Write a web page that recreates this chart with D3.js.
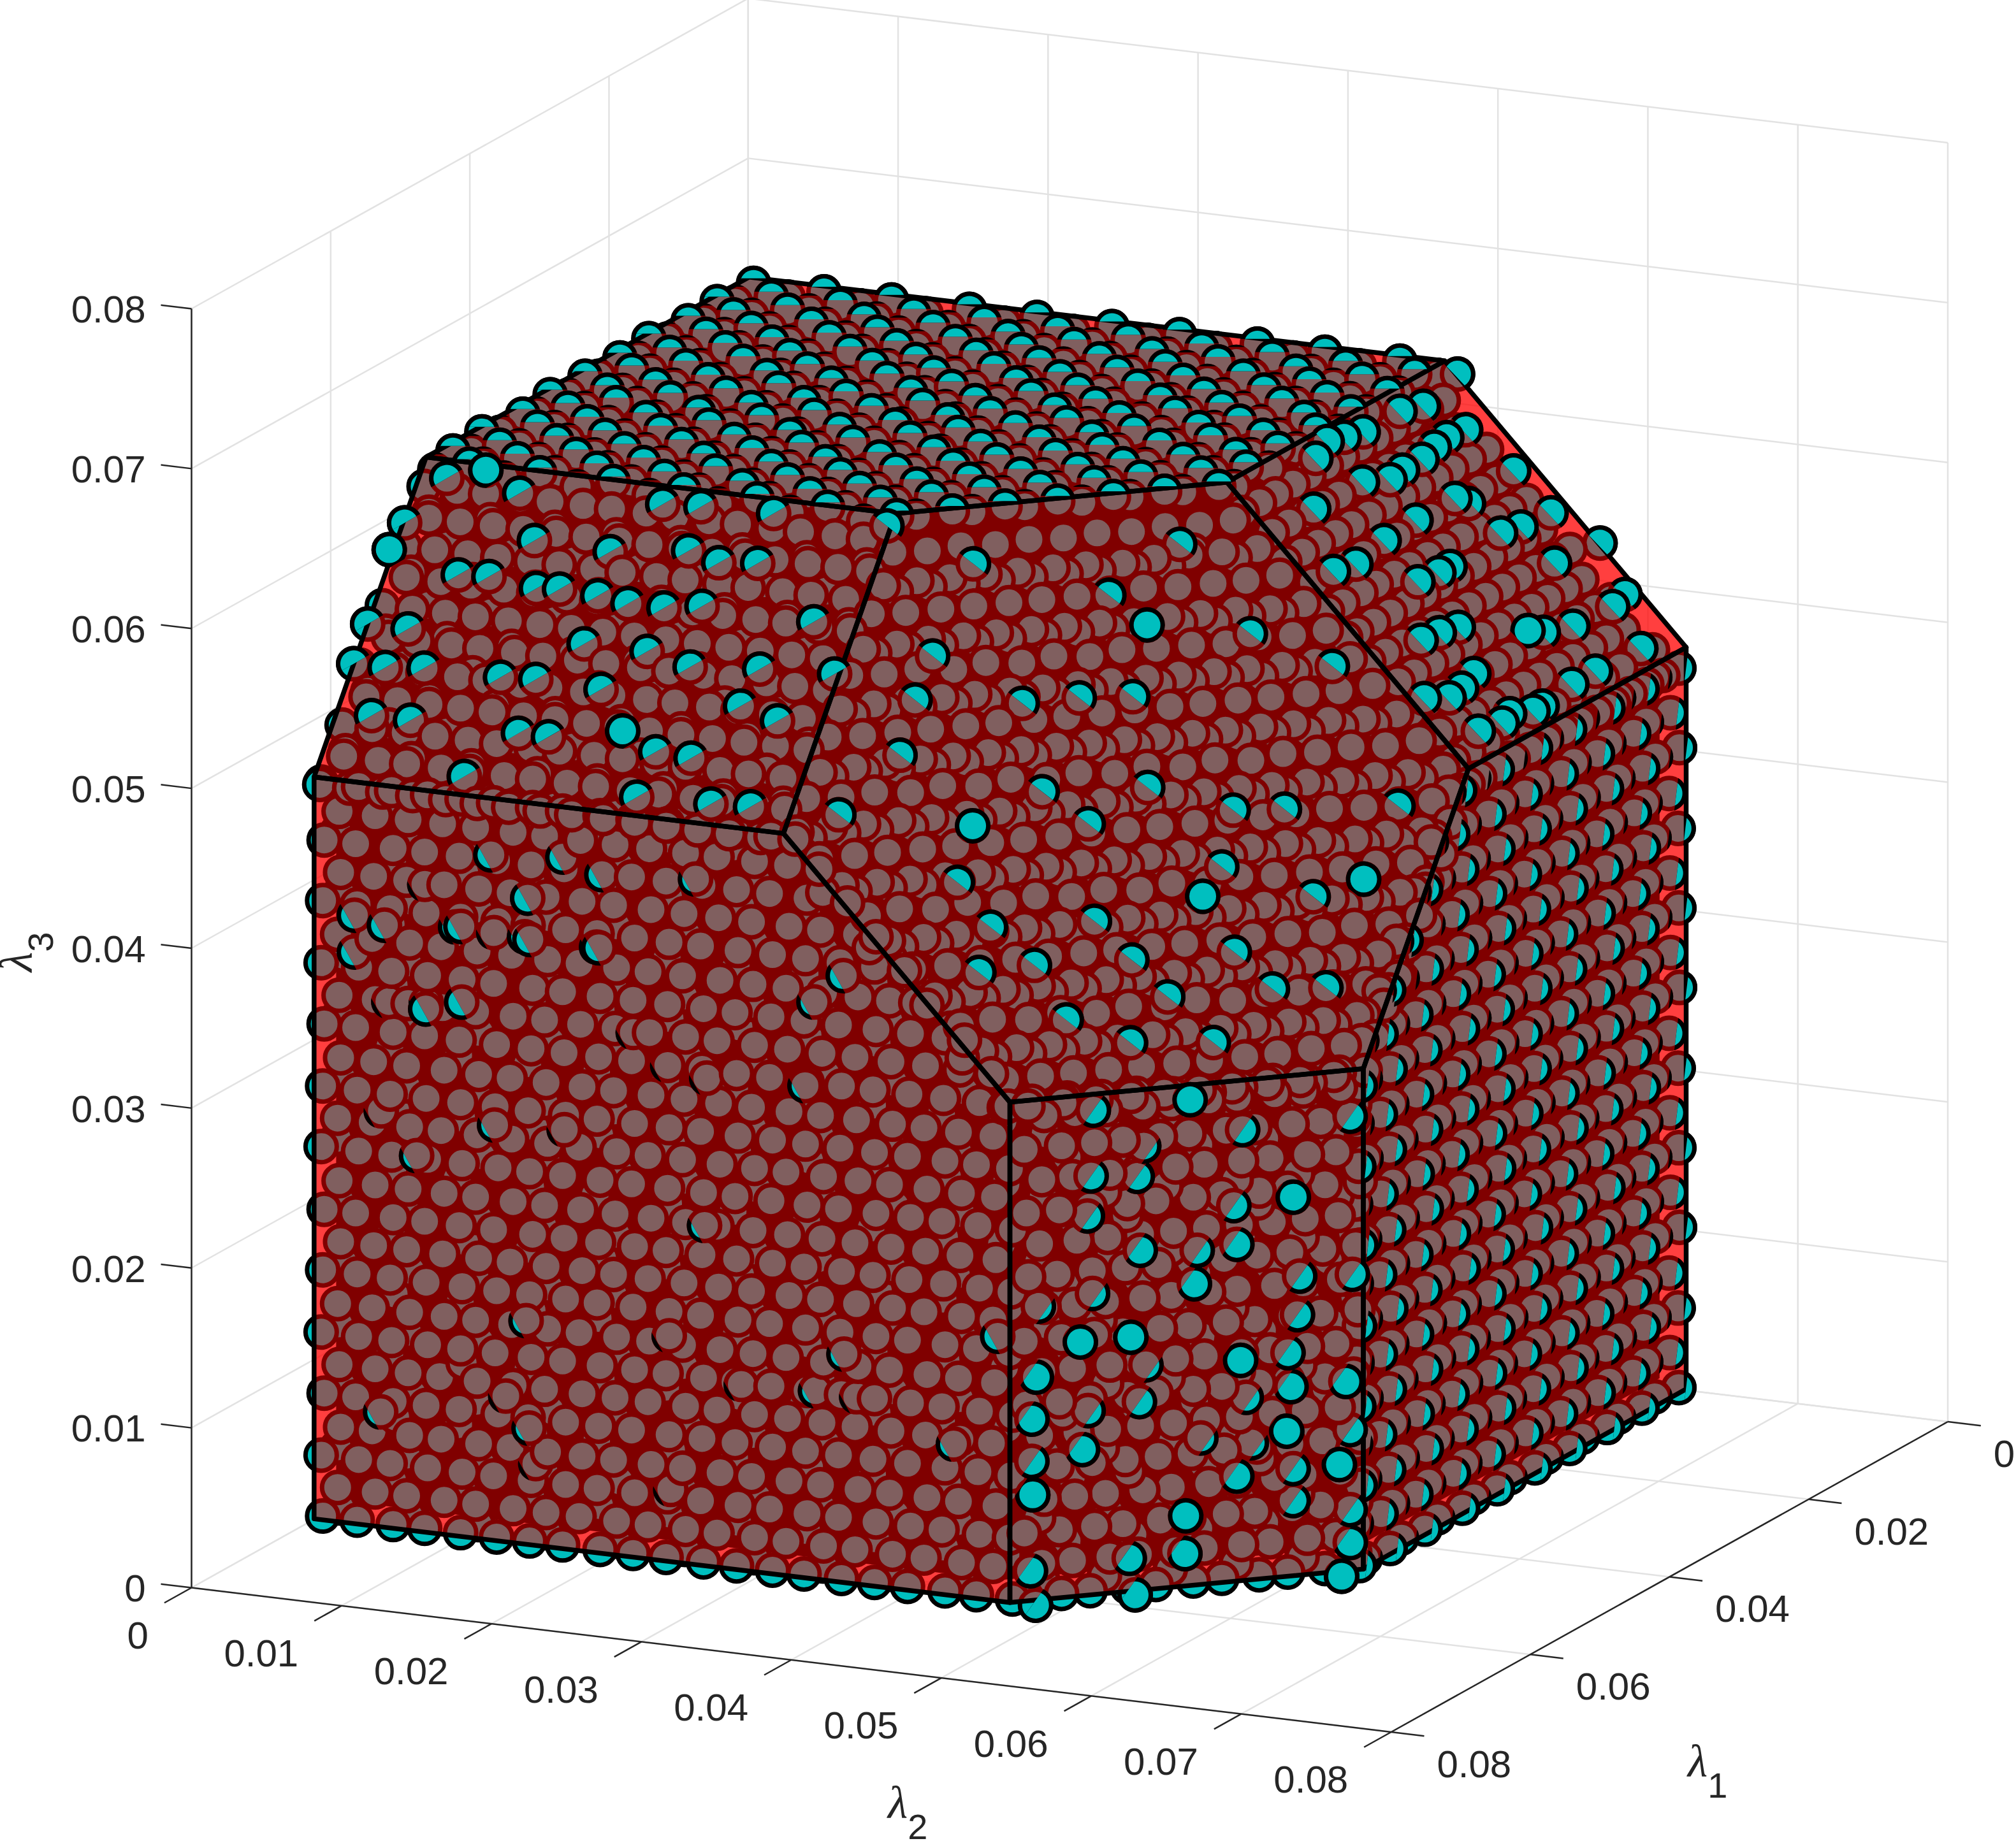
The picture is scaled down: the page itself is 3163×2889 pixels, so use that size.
<!DOCTYPE html>
<html>
<head>
<meta charset="utf-8">
<title>polytope</title>
<style>
html, body { margin: 0; background: #fff; }
text { font-family: "Liberation Sans", Arial, sans-serif; fill: #262626; }
</style>
</head>
<body>
<svg width="3163" height="2889"></svg>
<script src="https://d3js.org/d3.v7.min.js"></script>
<script>
// all lambda values are in units of 1e-4
var ticks1 = [0, 200, 400, 600, 800];
var ticks2 = [0, 100, 200, 300, 400, 500, 600, 700, 800];
var ticks3 = [0, 100, 200, 300, 400, 500, 600, 700, 800];
var labels1 = ["0", "0.02", "0.04", "0.06", "0.08"];
var labels2 = ["0", "0.01", "0.02", "0.03", "0.04", "0.05", "0.06", "0.07", "0.08"];
var labels3 = labels2;

// polytope faces, vertices as [l1, l2, l3]
var faceL1 = [[626,1,1],[626,465,1],[626,465,314],[626,314,465],[626,1,465]];
var faceL2 = [[1,626,1],[465,626,1],[465,626,314],[314,626,465],[1,626,465]];
var faceL3 = [[1,1,626],[465,1,626],[465,314,626],[314,465,626],[1,465,626]];
var faceL12 = [[626,465,1],[465,626,1],[465,626,314],[626,465,314]];
var faceL13 = [[626,1,465],[465,1,626],[465,314,626],[626,314,465]];
var faceL23 = [[1,626,465],[1,465,626],[314,465,626],[314,626,465]];
var faceSum = [[626,465,314],[465,626,314],[314,626,465],[314,465,626],[465,314,626],[626,314,465]];
var backL1 = [[1,1,1],[1,626,1],[1,626,465],[1,465,626],[1,1,626]];
var backL2 = [[1,1,1],[626,1,1],[626,1,465],[465,1,626],[1,1,626]];
var backL3 = [[1,1,1],[626,1,1],[626,465,1],[465,626,1],[1,626,1]];
var coreHull = [[618,12,12],[618,12,455],[455,12,618],[22,12,618],[22,455,618],[22,618,455],[22,618,12],[455,618,12],[618,455,12]];

// points just under the l1 face: [l3, l2, l2, ...]
var rowsL1 = [
[1,3,26,50,71,95,119,141,163,188,210,232,257,279,303,324,349,371,393,418,439,463],
[20,13,38,59,84,105,130,152,174,199,220,245,266,291,312,337,358,383,404,429,450],
[39,2,27,48,73,96,117,142,165,186,211,233,255,280,301,326,347,372,395,416,441,461],
[58,15,36,61,82,107,128,153,176,197,222,243,268,289,314,335,360,381,406,427,452],
[78,4,25,50,72,94,120,140,165,187,209,234,256,278,303,325,347,370,393,418,440,462],
[97,14,38,60,81,106,130,151,176,198,220,245,266,291,313,336,358,382,405,428,449],
[116,2,27,49,73,95,118,142,163,188,211,232,257,278,302,326,349,371,395,416,441,463],
[135,13,36,61,84,105,129,153,174,199,221,243,268,290,312,337,360,381,406,427,451],
[155,3,26,48,72,96,119,141,165,186,210,234,255,280,301,325,348,372,393,418,439,461],
[174,15,37,59,83,107,128,152,176,197,220,244,267,289,314,335,359,383,404,429,450],
[193,4,25,50,71,94,117,143,164,187,211,232,256,279,303,324,349,370,394,417,441,462],
[212,14,38,60,84,105,130,151,175,198,222,245,266,290,313,336,358,382,405,428,452],
[232,2,27,49,73,96,120,141,163,188,209,233,257,278,302,326,347,372,395,416,440,463],
[251,13,36,61,82,106,129,153,174,199,220,243,268,291,312,337,360,381,406,429,451],
[270,3,26,48,72,95,118,140,165,186,211,234,255,280,303,325,348,371,393,418,439,461],
[289,15,37,59,84,107,128,152,176,197,222,244,267,289,314,335,359,383,404,427,450],
[309,4,25,50,71,94,119,142,164,187,209,232,256,279,301,326,349,370,394,417,441,460],
[328,14,38,60,83,105,130,151,175,198,221,245,266,291,313,336,358,382,405,428,449],
[347,2,27,49,73,96,117,143,163,188,210,233,257,278,302,324,347,372,395,418,431],
[366,13,36,61,82,106,129,153,174,199,220,243,268,290,312,337,360,381,406],
[386,3,26,48,72,95,120,140,165,186,211,234,255,280,303,325,348,371,391],
[405,15,37,59,84,107,128,152,176,197,222,244,267,289,314,335,359,372],
[424,4,25,50,71,94,119,142,164,187,209,232,256,279,301,326,353],
[443,14,38,60,83,105,130,151,175,198,221,245,266,291,313,334],
[460,2,27,49,73,96,117,143,163,188,210,233,257,278,302,318]
];
// deeper points showing between those: [l3, l2, l2, ...]
var rowsL1Deep = [
[5,11,57,103,149,195,241,287,333,379,425],
[26,46,92,138,184,230,276,322,368,414,455],
[43,9,55,105,147,197,239,289,331,381,423],
[66,48,90,140,182,232,274,324,366,416,453],
[82,12,59,102,151,194,243,286,335,378,427],
[105,44,93,136,185,228,277,320,369,412,456],
[120,10,56,104,148,196,240,288,332,380,424],
[143,47,91,139,183,231,275,323,367,415,454],
[159,13,58,101,150,193,242,285,334,377,426],
[181,45,94,137,186,229,278,321,370,413,457],
[197,11,54,103,146,195,238,287,330,379,422],
[220,46,89,138,181,230,273,322,365,414,452],
[236,9,57,105,149,197,241,289,333,381,425],
[258,48,92,140,184,232,276,324,368,416,455],
[274,12,55,102,147,194,239,286,331,378,423],
[297,44,90,136,182,228,274,320,366,412,453],
[313,10,59,104,151,196,243,288,335,380,427],
[336,47,93,139,185,231,277,323,369,415],
[351,13,56,101,148,193,240,285,332,377,418],
[374,45,91,137,183,229,275,321,367,396],
[390,11,58,103,150,195,242,287,334,378],
[412,46,94,138,186,230,278,322,357],
[428,9,54,105,146,197,238,289,340],
[448,48,89,140,181,232,273,320]
];
// [l3, l2, l2, ...] just under the l1 + l2 face
var rowsL12 = [
[2,470,486,499,516,529,546,559,576,589,606,621],
[22,477,491,508,521,538,551,568,581,598,611],
[42,469,485,501,514,531,544,561,574,591,604,620],
[62,478,492,506,523,536,553,566,583,596,613],
[82,471,484,500,515,530,545,560,575,590,605,622],
[102,476,493,507,522,537,552,567,582,597,612],
[122,470,485,499,516,529,546,559,576,589,606,619],
[142,477,491,508,521,538,551,568,581,598,611],
[162,469,486,501,514,531,544,561,574,591,604,621],
[182,478,492,506,523,536,553,566,583,596,613],
[202,471,484,500,515,530,545,560,575,590,605,620],
[222,476,493,507,522,537,552,567,582,597,612],
[242,470,485,499,516,529,546,559,576,589,606,622],
[262,477,491,508,521,538,551,568,581,598,611],
[282,469,486,501,514,531,544,561,574,591,604,619],
[302,478,492,506,523,536,553,566,583,596,613]
];
var rowsL12Deep = [
[9,475,503,533,563,593,617],[33,486,516,546,576,606],[49,473,505,531,565,591,618],
[73,488,514,548,574,608],[89,476,502,534,562,594,616],[113,484,517,544,577,604],
[129,474,504,532,564,592,618],[153,487,515,547,575,607],[169,477,501,535,561,595,617],
[193,485,518,545,578,605],[209,473,506,533,566,593,616],[233,489,513,549,573,609],
[249,475,503,531,563,591,618],[273,486,516,546,576,606],[289,476,504,534,564,594,617],[309,484,514,544,574,604]
];
// [l1, l2, l2, ...] just under the l1 + l2 + l3 face
var rowsSum = [
[318,471,487,502,518,533,549,564,580,595,611,624],
[334,456,471,487,503,518,533,549,565,580,595,611,623],
[349,440,456,472,487,502,518,534,549,564,580,596,611,624],
[365,425,440,456,471,488,502,518,533,549,565,580,595,611,622],
[380,409,426,440,456,472,487,503,518,533,549,564,581,595,611,624],
[396,394,409,425,441,456,471,487,502,519,533,549,564,580,596,611,623],
[411,378,394,410,425,440,456,472,487,502,518,534,549,565,580,595,611,624],
[427,363,378,394,409,426,440,456,471,488,502,518,533,549,564,581,595,610,622],
[442,347,363,379,394,409,425,441,456,471,487,503,518,533,549,565,580,595,611,623],
[458,332,347,363,378,395,409,425,440,457,471,487,502,519,533,549,564,580,596,610,624],
[473,316,332,348,363,378,394,410,425,440,456,472,487,502,518,534,549,564,580,595,610],
[489,317,332,347,364,378,394,409,426,440,456,471,488,502,518,533,550,564,580,595],
[504,316,333,347,363,379,394,409,425,441,456,471,487,503,518,533,549,565,580],
[520,318,332,347,363,378,395,409,425,440,457,471,487,502,519,533,549,564],
[535,316,332,348,363,378,394,410,425,440,456,472,487,502,518,534,549],
[551,317,332,347,364,378,394,409,426,440,456,471,488,502,518,533],
[566,316,333,347,363,379,394,409,425,441,456,471,487,503,518],
[582,318,332,347,363,378,395,409,425,440,457,471,487,502],
[597,316,332,348,363,378,394,410,425,440,456,472,487],
[613,317,332,347,364,378,394,409,426,440,456,471]
];
var rowsSumDeep = [
[326,476,507,538,569,600],[341,455,492,523,554,585,616],[357,446,477,508,539,570,601],
[372,430,461,492,523,554,585,616],[388,414,445,476,507,538,569,600],[403,399,430,461,492,523,554,585,616],
[419,383,414,445,476,507,538,569,600],[434,368,399,430,461,492,523,554,585,612],[450,352,383,414,445,476,507,538,569,600],
[465,337,368,399,430,461,492,523,554,585,610],[481,322,352,383,414,445,476,507,538,569,598],[496,337,368,399,430,461,492,523,554,580],
[512,322,352,383,414,445,476,507,538,566],[527,337,368,399,430,461,492,523,552],[543,322,352,383,414,445,476,507,535],
[558,337,368,399,430,461,492,518],[574,322,352,383,414,445,476,502],[589,337,368,399,430,461,486],[605,322,352,383,414,445,470],[619,337,368,399,430,458]
];
// [l1, l2, l2, ...] just under the l1 + l3 face
var rowsL13 = [
[470,2,24,43,66,86,108,127,150,169,192,211,234,253,276,295],
[485,12,33,55,75,97,117,139,159,181,201,223,243,265,285,306],
[500,3,23,45,65,87,106,129,148,171,190,213,232,255,274,297],
[515,11,34,54,76,96,118,138,160,180,202,222,244,264,286,307],
[530,2,22,44,64,86,107,128,149,170,191,212,233,254,275,296],
[545,13,32,55,74,97,116,139,158,181,200,223,242,265,284,305],
[560,1,24,43,66,85,108,127,150,169,192,211,234,253,276,296],
[575,12,33,54,75,96,117,138,159,180,201,222,243,264,285,306],
[590,3,23,45,65,87,106,129,148,171,190,213,232,255,274,297],
[605,11,34,53,76,95,118,137,160,179,202,221,244,263,286,305],
[620,2,22,44,64,86,107,128,149,170,191,212,233,254,275,296]
];
var rowsL13Deep = [
[476,8,49,92,133,176,217,260,300],[491,28,71,112,155,196,239,280],[506,10,51,93,135,177,219,261,302],
[521,29,70,113,154,197,238,281],[536,7,48,91,132,175,216,259,301],[551,27,72,111,156,195,240,279],
[566,9,50,94,134,178,218,262,303],[581,30,69,114,153,198,237,282],[596,8,52,92,136,176,220,260,300],[611,28,71,112,155,196,239,280]
];
// [l2, l1, l1, ...] just under the l2 + l3 face
var rowsL23 = [
[470,14,38,63,86,111,134,159,182,207,230,255,278,303],
[484,26,50,74,98,122,146,170,194,218,242,266,290],
[498,12,37,62,85,110,133,158,181,206,229,254,277,302],
[512,27,51,75,99,123,147,171,195,219,243,267,291],
[526,15,39,61,87,109,135,157,183,205,231,253,279,301],
[540,25,49,73,97,121,145,169,193,217,241,265,289,305],
[554,13,38,62,86,110,134,158,182,206,230,254,278,302],
[568,26,50,75,98,123,146,171,194,219,242,267,290],
[582,14,37,63,85,111,133,159,181,207,229,255,277,303],
[596,27,51,74,99,122,147,170,195,218,243,266,291],
[610,15,39,61,87,109,135,157,183,205,231,253,279,301],
[622,26,49,73,97,121,145,169,193,217,241,265,289,306]
];
// [l1, l2, l2, ...] high and low points under the l3 face
var rowsTopHigh = [
[3,5,52,97,149,194,244,289,341,386,436],
[27,28,74,123,170,219,266,315,362,411,457],
[51,3,50,101,147,197,241,293,337,389,433],
[75,25,77,121,173,217,269,313,365,409,461],
[99,6,48,100,145,198,240,292,336,390,432],
[123,29,73,125,169,221,265,317,361,413,459],
[147,2,53,96,151,192,247,288,343,384,439],
[171,27,76,119,172,215,268,311,364,407,458],
[195,5,49,103,146,199,242,295,338,391,434],
[219,24,75,122,167,218,263,314,359,410,455],
[243,4,51,98,150,195,246,291,342,387,438],
[267,30,72,126,168,222,264,318,360,414,456],
[291,3,47,102,144,196,243,290,340,385,437],
[315,26,78,120,174,216,270,312,366,408,460],
[339,7,50,99,148,193,245,294,339,388,435],
[363,28,73,124,171,220,267,316,363,412],
[387,2,52,97,150,195,241,292,337,386],
[411,25,76,121,169,217,265,313,362],
[435,5,48,101,146,198,243,290,338],
[459,27,74,123,170,219,266,312]
];
var rowsTopLow = [
[3,28,76,120,172,218,268,313,365,409,461],
[27,4,53,98,146,196,242,292,338,388,434],
[51,26,75,124,171,221,265,316,360,414,457],
[75,5,49,100,147,193,245,290,341,386,436],
[99,30,73,122,169,216,267,315,363,411,458],
[123,3,51,97,150,195,243,293,339,387,435],
[147,27,78,119,174,218,264,312,361,410,462],
[171,6,47,101,145,197,246,289,342,390,433],
[195,25,72,121,170,222,269,317,366,408,456],
[219,2,52,99,149,194,240,294,337,385,437],
[243,29,76,125,172,215,266,314,359,413,460],
[267,4,50,96,147,198,244,291,340,389,434],
[291,26,74,123,168,219,263,316,364,410,459],
[315,5,53,98,151,192,247,288,343,386,436],
[339,28,75,121,173,217,268,313,362,412],
[363,3,48,100,146,196,242,292,338,391],
[387,27,77,122,170,220,265,315,364],
[411,6,51,97,148,194,244,289,340],
[435,25,73,124,169,216,267,314],
[459,4,50,99,147,193,241,290]
];
// rows on the l2 face: [l3, l1, l1, ...]
var rowsRightNear = [
[2,3,56,106,160,210,264,314,368,418,462],
[27,16,69,119,173,223,277,327,381,431],
[52,4,54,108,158,212,262,316,366,420,461],
[77,17,67,121,171,225,275,329,379,433],
[102,2,55,107,159,211,263,315,367,419,463],
[127,15,68,120,172,224,276,328,380,432],
[152,3,56,105,160,209,264,313,368,417,462],
[177,16,69,121,173,225,277,327,381,433],
[202,4,54,108,158,212,262,316,366,420,460],
[227,17,67,119,171,223,275,329,379,431],
[252,2,55,107,159,211,263,315,367,419,463],
[277,15,68,120,172,224,276,328,380,432],
[302,3,56,106,160,210,264,314,368,418,461],
[327,16,69,119,173,223,277,327,381,431],
[352,4,54,108,158,212,262,316,366,420],
[377,17,67,121,171,225,275,329,395],
[402,2,55,107,159,211,263,315,367],
[427,15,68,120,172,224,276,328],
[452,3,56,105,160,209,264,318]
];
var rowsRightMid = [
[2,29,81,133,185,237,289,341,393,445],
[27,42,94,146,198,250,302,354,406,458],
[52,30,80,134,184,238,288,342,392,446],
[77,43,93,147,197,251,301,355,405,459],
[102,28,82,132,186,236,290,340,394,444],
[127,41,95,145,199,249,303,353,407,457],
[152,29,81,133,185,237,289,341,393,445],
[177,42,94,146,198,250,302,354,406,458],
[202,30,80,134,184,238,288,342,392,446],
[227,43,93,147,197,251,301,355,405,459],
[252,28,82,132,186,236,290,340,394,444],
[277,41,95,145,199,249,303,353,407,457],
[302,29,81,133,185,237,289,341,393,445],
[327,42,94,146,198,250,302,354,406,450],
[352,30,80,134,184,238,288,342,392,425],
[377,43,93,147,197,251,301,355,400],
[402,28,82,132,186,236,290,340,375],
[427,41,95,145,199,249,303,350],
[452,29,81,133,185,237,289,325]
];

// points pushed through a face, read one at a time: [l1, l2, l3]
var outL1 = [[624,118,429],[624,166,433],[624,192,425],[624,27,381],[624,47,377],[624,98,382],[625,143,405],[624,144,379],[624,190,379],[624,27,358],[625,75,328],[625,99,335],[622,119,380],[622,73,405],[623,94,381],[623,140,380],[623,188,379],[623,254,429],[622,261,305],[623,327,308],[624,353,380],[623,333,361],[622,49,329],[622,74,331],[622,44,260],[623,68,235],[623,120,260],[622,166,262],[622,212,328],[622,235,310],[623,260,213],[623,353,143],[624,456,166],[623,141,140],[622,236,141],[622,284,116],[623,334,118],[623,44,72],[622,127,91],[623,143,73],[622,147,51],[622,237,45],[623,426,95],[622,361,117]];
var outL12 = [[548,549,306],[588,503,304],[520,571,283],[471,620,285],[501,596,239],[589,502,263],[568,523,260],[590,500,238],[524,567,236],[524,569,212],[568,525,214],[544,550,190],[598,499,161],[575,522,161],[525,572,140],[616,478,141],[618,476,115],[619,477,68],[616,475,88],[595,499,93],[475,619,120],[500,594,120],[504,593,93],[471,620,89],[480,617,69],[524,569,67],[497,594,48],[497,594,68],[550,547,46],[549,546,22],[573,520,22],[473,621,19],[479,618,-1],[571,523,-1],[618,475,20],[615,477,-2],[470,621,186],[494,597,188],[495,596,164],[500,592,141],[517,572,115],[567,524,119],[589,500,116],[611,477,184],[587,502,189],[540,550,210],[471,620,39],[537,551,92],[514,574,86],[562,526,141],[563,525,278]];
var outSum = [[548,404,461],[403,453,557],[476,524,413],[402,597,414],[596,337,472],[356,453,596],[404,428,573],[450,359,596],[500,355,550],[523,354,528],[479,405,521],[430,456,519],[453,431,521],[358,501,546],[335,545,525],[357,599,449],[428,522,455],[453,526,426],[456,478,471],[494,456,455],[502,429,474],[549,356,500],[570,404,431],[572,427,406],[567,454,384],[593,429,383],[524,499,382],[526,475,404],[425,574,406],[475,570,360],[452,595,358],[478,546,381],[522,522,361],[519,551,335],[554,512,339],[573,478,354],[406,546,453],[473,312,620]];
var outL13 = [[474,45,625],[474,19,617],[477,69,614],[518,1,581],[498,2,593],[520,48,571],[519,68,572],[499,89,592],[522,101,569],[521,116,570],[522,142,569],[524,163,567],[524,187,567],[521,211,570],[500,140,591],[495,190,596],[499,212,592],[497,237,594],[473,188,618],[474,163,617],[472,236,619],[549,1,542],[569,1,522],[569,22,522],[549,28,542],[567,47,524],[593,24,498],[593,50,498],[567,98,524],[566,121,525],[546,144,545],[546,186,545],[551,217,540],[548,262,543],[522,286,569],[546,311,545],[567,165,524],[567,258,524],[572,285,519],[593,122,498],[593,142,498],[592,191,507],[594,214,497],[595,238,496],[616,261,475],[615,287,476],[617,212,474],[617,97,474]];
var outL23 = [[2,474,619],[62,479,614],[89,476,617],[40,497,596],[65,496,597],[85,497,596],[107,499,594],[142,476,617],[165,474,619],[185,472,621],[210,476,617],[27,523,570],[135,499,594],[155,500,593],[184,495,598],[107,521,572],[94,524,566],[254,495,598],[163,521,572],[25,547,546],[66,546,547],[91,544,549],[2,569,524],[211,522,571],[63,567,526],[258,525,568],[286,523,570],[168,546,547],[184,546,547],[212,545,548],[20,594,499],[42,596,497],[97,595,498],[131,591,502],[155,592,509],[210,571,522],[233,569,524],[257,568,525],[49,618,475],[112,617,476],[146,617,476],[233,592,501],[257,595,498],[277,596,497],[302,591,502],[193,619,474],[206,619,474],[231,615,478],[246,617,476],[276,615,478]];

// MATLAB view as three axis scales, pixels per unit along the screen
var x1 = d3.scaleLinear().domain([0, 800]).range([873.3, 0]);
var y1 = d3.scaleLinear().domain([0, 800]).range([-487, 0]);
var x2 = d3.scaleLinear().domain([0, 800]).range([0, 1882.2]);
var y2 = d3.scaleLinear().domain([0, 800]).range([0, 226.5]);
var y3 = d3.scaleLinear().domain([0, 800]).range([0, -2007]);
var ox = 300.5, oy = 2491.5;

function project(p) {
  return [ox + x1(p[0]) + x2(p[1]), oy + y1(p[0]) + y2(p[1]) + y3(p[2])];
}
var polyLine = function (pts) { return "M" + pts.map(function (p) { return project(p).map(function (v) { return v.toFixed(1); }).join(","); }).join("L") + "Z"; };

var svg = d3.select("svg");

/////// grid and axes
var grid = [];
ticks2.forEach(function (b) {
  grid.push([[0, b, 0], [0, b, 800]]);
  grid.push([[0, b, 0], [800, b, 0]]);
});
ticks1.forEach(function (a) {
  grid.push([[a, 0, 0], [a, 0, 800]]);
  grid.push([[a, 0, 0], [a, 800, 0]]);
});
ticks3.forEach(function (c) {
  grid.push([[0, 0, c], [0, 800, c]]);
  grid.push([[0, 0, c], [800, 0, c]]);
});
function drawSegs(segs, color, width) {
  svg.append("g").selectAll("line").data(segs).join("line")
    .attr("x1", function (d) { return project(d[0])[0]; })
    .attr("y1", function (d) { return project(d[0])[1]; })
    .attr("x2", function (d) { return project(d[1])[0]; })
    .attr("y2", function (d) { return project(d[1])[1]; })
    .attr("stroke", color).attr("stroke-width", width);
}
drawSegs(grid, "#e2e2e2", 2.5);
var axes = [[[800, 0, 0], [800, 800, 0]], [[800, 800, 0], [0, 800, 0]], [[800, 0, 0], [800, 0, 800]]];
ticks1.forEach(function (a) { axes.push([[a, 800, 0], [a, 822, 0]]); });
ticks2.forEach(function (b) { axes.push([[800, b, 0], [839, b, 0]]); });
ticks3.forEach(function (c) { axes.push([[800, 0, c], [800, -20.4, c]]); });
drawSegs(axes, "#262626", 2.5);

var tickFont = 60;
function drawLabels(ticks, labels, pos, anchor, dx, dy) {
  svg.append("g").selectAll("text").data(ticks).join("text")
    .attr("x", function (d) { return project(pos(d))[0] + dx; })
    .attr("y", function (d) { return project(pos(d))[1] + dy; })
    .attr("dy", "0.36em")
    .attr("text-anchor", anchor)
    .attr("font-size", tickFont)
    .text(function (d, i) { return labels[i]; });
}
drawLabels(ticks1, labels1, function (a) { return [a, 822, 0]; }, "start", 20, 43);
drawLabels(ticks2, labels2, function (b) { return [839, b, 0]; }, "end", -25, 50);
drawLabels(ticks3, labels3, function (c) { return [800, -20.4, c]; }, "end", -24, 6);

function axisLabel(x, y, sub, rotate) {
  var t = svg.append("text").attr("x", x).attr("y", y);
  if (rotate) t.attr("transform", "rotate(-90 " + x + " " + y + ")");
  t.append("tspan").attr("font-family", "Liberation Serif").attr("font-style", "italic").attr("font-size", 72).text("λ");
  t.append("tspan").attr("dy", 33).attr("font-size", 56).text(sub);
}
axisLabel(2648, 2788, "1", false);
axisLabel(1393, 2853, "2", false);
axisLabel(50, 1525, "3", true);

/////// back of the polytope and the dark interior
svg.append("g").selectAll("path").data([backL1, backL2, backL3]).join("path")
  .attr("d", polyLine).attr("fill", "#ff0000").attr("fill-opacity", 0.5);
svg.append("path").attr("d", polyLine(coreHull)).attr("fill", "#000");

/////// points
var planes = {
  l1: {n: [1, 0, 0], k: 626}, l2: {n: [0, 1, 0], k: 626}, l3: {n: [0, 0, 1], k: 626},
  l12: {n: [1, 1, 0], k: 1091}, l13: {n: [1, 0, 1], k: 1091}, l23: {n: [0, 1, 1], k: 1091},
  sum: {n: [1, 1, 1], k: 1405}
};
var points = [];
function addRows(rows, plane, toPoint) {
  rows.forEach(function (r) {
    r.slice(1).forEach(function (u) { points.push({p: toPoint(r[0], u), plane: plane}); });
  });
}
addRows(rowsL1, "l1", function (c, b) { return [618, b, c]; });
addRows(rowsL1Deep, "l1", function (c, b) { return [610, b, c]; });
addRows(rowsL12, "l12", function (c, b) { return [1083 - b, b, c]; });
addRows(rowsL12Deep, "l12", function (c, b) { return [1075 - b, b, c]; });
addRows(rowsSum, "sum", function (a, b) { return [a, b, 1393 - a - b]; });
addRows(rowsSumDeep, "sum", function (a, b) { return [a, b, 1385 - a - b]; });
addRows(rowsL13, "l13", function (a, b) { return [a, b, 1079 - a]; });
addRows(rowsL13Deep, "l13", function (a, b) { return [a, b, 1071 - a]; });
addRows(rowsL23, "l23", function (b, a) { return [a, b, 1075 - b]; });
addRows(rowsTopHigh, "l3", function (a, b) { return [a, b, 623]; });
addRows(rowsTopLow, "l3", function (a, b) { return [a, b, 617]; });
addRows(rowsRightNear, "l2", function (c, a) { return [a, 622, c]; });
addRows(rowsRightMid, "l2", function (c, a) { return [a, 618, c]; });
[[outL1, "l1"], [outL12, "l12"], [outSum, "sum"], [outL13, "l13"], [outL23, "l23"]].forEach(function (e) {
  e[0].forEach(function (p) { points.push({p: p, plane: e[1]}); });
});

// screen offset -> change along a plane normal, for a view that keeps the axes isotropic
var xa = x1(1) - x1(0), ya = y1(1) - y1(0), xb = x2(1) - x2(0), yb = y2(1) - y2(0), yc = y3(1) - y3(0);
var s2 = (xa * xa + xb * xb + ya * ya + yb * yb + yc * yc) / 2;
var view = [0.873, 0.412, 0.2635];
points.forEach(function (d) {
  var s = project(d.p), pl = planes[d.plane], n = pl.n;
  d.x = s[0];
  d.y = s[1];
  d.depth = d3.sum(view, function (v, i) { return v * d.p[i]; });
  d.g0 = d3.sum(n, function (v, i) { return v * d.p[i]; }) - pl.k;
  d.gx = (n[0] * xa + n[1] * xb) / s2;
  d.gy = (n[0] * ya + n[1] * yb + n[2] * yc) / s2;
});
points.sort(function (p, q) { return p.depth - q.depth; });

var rOuter = 28, rInner = 21, rMid = 24.5;
var cyan = "#00bfbf";
svg.append("g").selectAll("circle").data(points).join("circle")
  .attr("cx", function (d) { return d.x; })
  .attr("cy", function (d) { return d.y; })
  .attr("r", rMid)
  .attr("fill", cyan)
  .attr("stroke", "#000")
  .attr("stroke-width", rOuter - rInner);

/////// front faces
var frontFaces = [faceL1, faceL2, faceL3, faceL12, faceL13, faceL23, faceSum];
svg.append("g").selectAll("path").data(frontFaces).join("path")
  .attr("d", polyLine).attr("fill", "#ff0000").attr("fill-opacity", 0.5);
svg.append("g").selectAll("path").data(frontFaces).join("path")
  .attr("d", polyLine).attr("fill", "none").attr("stroke", "#000").attr("stroke-width", 7.5).attr("stroke-linejoin", "round");

/////// the part of each marker that stands in front of its face
function segment(d, r) {
  var k = Math.hypot(d.gx, d.gy), t0 = -d.g0 / k;
  if (t0 >= r) return null;
  if (t0 <= -r) return "M" + (d.x - r) + "," + d.y + "a" + r + "," + r + " 0 1,0 " + (2 * r) + ",0a" + r + "," + r + " 0 1,0 " + (-2 * r) + ",0Z";
  var ux = d.gx / k, uy = d.gy / k, h = Math.sqrt(r * r - t0 * t0);
  var bx = d.x + ux * t0, by = d.y + uy * t0;
  return "M" + (bx - uy * h) + "," + (by + ux * h) + "A" + r + "," + r + " 0 " + (t0 < 0 ? 1 : 0) + ",0 " + (bx + uy * h) + "," + (by - ux * h) + "Z";
}
var parts = [];
points.forEach(function (d) {
  var outer = segment(d, rOuter), inner = segment(d, rInner);
  if (outer) parts.push({d: outer, fill: "#000"});
  if (inner) parts.push({d: inner, fill: cyan});
});
svg.append("g").selectAll("path").data(parts).join("path")
  .attr("d", function (d) { return d.d; })
  .attr("fill", function (d) { return d.fill; });
</script>
</body>
</html>
